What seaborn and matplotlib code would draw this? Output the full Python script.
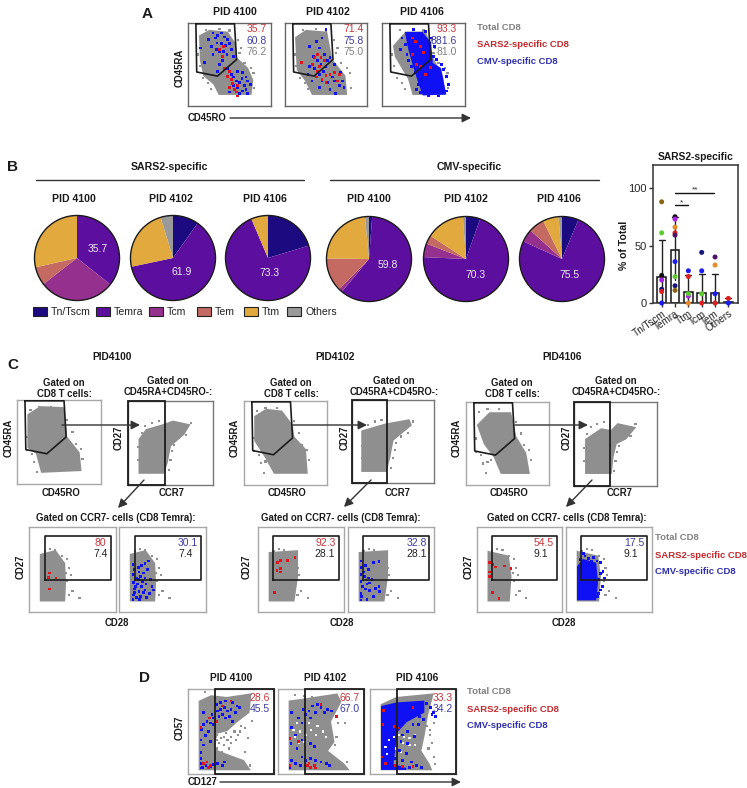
import pandas as pd
import matplotlib
matplotlib.use("Agg")
import matplotlib.pyplot as plt
from matplotlib.patches import Rectangle, Circle
import seaborn as sns

sns.set_style("white")
plt.rcParams['font.family'] = ['Liberation Sans', 'DejaVu Sans']

W, H = 747, 788
GREY = '#8f8f8f'
RED = '#e0141c'
BLUE = '#1010f5'
TXT_RED = '#c4373c'
TXT_BLUE = '#3c3ca0'

# pie values, clockwise from 12 o'clock
subsets = ['Tn/Tscm', 'Temra', 'Tcm', 'Tem', 'Ttm', 'Others']
subset_colors = ['#1b0a80', '#5c0f9e', '#96308e', '#c46a62', '#e2a93f', '#9a9a9a']
sars_4100 = [0, 35.7, 28.8, 7, 28.5, 0]
sars_4102 = [9.8, 61.9, 0, 0, 23.6, 4.7]
sars_4106 = [20.3, 73.3, 0, 0, 6.4, 0]
cmv_4100 = [1.2, 59.8, 1.4, 12.8, 23.3, 1.5]
cmv_4102 = [5.4, 70.3, 5.2, 3.3, 14.6, 1.2]
cmv_4106 = [6.3, 75.5, 4.9, 6.0, 6.0, 1.3]

# bar panel
bar_labels = ['Tn/Tscm', 'Temra', 'Ttm', 'Tcm', 'Tem', 'Others']
bar_means = [23, 46, 10, 8.5, 8.5, 1]
bar_low = [0, 20, 0, 0, 0, 0]
bar_high = [55, 75, 24, 25, 25, 4]
donor_colors = {'brown': '#8b6414', 'green': '#5ccb2e', 'black': '#111111', 'violet': '#a81fe8',
                'navy': '#16167a', 'red': '#dc2020', 'blue': '#1c1cf0', 'orange': '#e8892a',
                'plum': '#4e1566'}
tn_pts = [('brown', 88), ('green', 61), ('black', 24), ('violet', 20), ('navy', 12), ('red', 10), ('blue', 0)]
temra_pts = [('black', 75), ('violet', 73), ('orange', 66), ('red', 61), ('plum', 59), ('blue', 36),
             ('green', 23), ('navy', 15), ('brown', 11)]
ttm_pts = [('blue', 28), ('red', 23), ('violet', 6), ('green', 8), ('orange', 0)]
tcm_pts = [('navy', 44), ('blue', 28), ('green', 8), ('red', 0)]
tem_pts = [('plum', 40), ('orange', 33), ('blue', 8), ('red', 0)]
others_pts = [('red', 4), ('blue', 0)]

# flow gates, in axis units 0-100
gate_cd45 = [(9.5, 99), (56, 99), (58.5, 56), (35.5, 36), (10.5, 41), (9.5, 99)]

# panel A
cloud_a1 = [(15, 84), (26, 90), (47, 88), (55, 76), (57, 58), (71, 45), (77, 31), (75, 15), (38, 15), (32, 27), (20, 37), (16, 55)]
cloud_a2 = [(14, 82), (26, 90), (50, 88), (56, 56), (72, 36), (74, 15), (34, 15), (26, 31), (16, 44)]
cloud_a3 = [(15, 72), (29, 88), (52, 88), (60, 58), (72, 35), (74, 15), (38, 15), (33, 33), (17, 60)]
stray_a = [(22, 92), (38, 93), (50, 91), (60, 80), (64, 70), (12, 62), (14, 48), (18, 34), (24, 28), (28, 20), (79, 40), (80, 22), (76, 46), (68, 52), (62, 64)]
blue_a1 = [(30, 88), (33, 82), (36, 85), (40, 88), (44, 83), (48, 80), (35, 76), (40, 75), (45, 73), (50, 75), (28, 72), (34, 68),
           (38, 65), (43, 66), (47, 62), (52, 68), (55, 60), (30, 62), (25, 80), (15, 70), (20, 52), (42, 55), (38, 50), (48, 45),
           (36, 42), (52, 38), (55, 35), (58, 30), (62, 28), (65, 33), (68, 25), (70, 20), (72, 30), (66, 18), (60, 22), (55, 25),
           (50, 17), (75, 26), (62, 15), (70, 35), (66, 40), (60, 42), (72, 15)]
red_a1 = [(43, 72), (38, 68), (42, 60), (44, 45), (50, 42), (52, 32), (54, 27), (50, 22), (56, 20), (60, 25), (60, 12), (58, 17), (48, 36)]
blue_a2 = [(30, 72), (38, 78), (45, 82), (42, 70), (35, 60), (48, 62), (52, 55), (44, 50), (40, 55), (36, 45), (50, 48), (55, 58),
           (47, 42), (60, 50), (30, 48), (28, 38), (42, 38), (58, 35), (45, 30), (52, 28), (60, 30), (66, 25), (70, 30), (55, 20),
           (62, 15), (68, 40), (72, 22), (50, 92), (33, 30), (42, 22)]
red_a2 = [(36, 58), (40, 62), (44, 58), (34, 50), (38, 35), (42, 48), (48, 55), (20, 52), (45, 32), (50, 37), (55, 38), (60, 40), (64, 30), (50, 28), (66, 38), (40, 42)]
mass_a3 = [(29, 88), (48, 88), (58, 76), (60, 51), (70, 45), (76, 15), (50, 14), (44, 31), (39, 47), (33, 68)]
blue_a3 = [(24, 82), (28, 74), (30, 62), (32, 55), (36, 48), (38, 92), (52, 90), (60, 82), (63, 72), (62, 60), (44, 26), (42, 20),
           (46, 16), (74, 44), (78, 36), (80, 26), (78, 18), (72, 50), (40, 40), (66, 56), (22, 68), (56, 12), (68, 12)]
red_a3 = [(40, 78), (46, 72), (37, 62), (50, 64), (42, 50), (46, 48), (58, 46), (37, 82), (52, 38)]

# panel C, first row
cloud_c1 = [(14, 82), (28, 91), (54, 90), (57, 68), (58, 56), (73, 37), (75, 17), (30, 15), (24, 37), (14, 44)]
cloud_c2 = [(14, 81), (27, 89), (45, 87), (57, 71), (59, 57), (73, 42), (75, 15), (37, 15), (27, 33), (14, 53)]
cloud_c3 = [(15, 72), (29, 86), (53, 86), (59, 58), (71, 38), (75, 15), (43, 15), (35, 34), (23, 50)]
stray_c = [(16, 88), (26, 92), (40, 92), (60, 76), (66, 62), (70, 48), (12, 40), (18, 36), (20, 26), (26, 28), (24, 14), (78, 30), (76, 42), (30, 30), (12, 56)]
ccr7_c1 = [(14, 15), (14, 54), (22, 65), (42, 71), (53, 75), (71, 71), (65, 61), (49, 47), (45, 26), (41, 15)]
ccr7_c2 = [(13, 15), (13, 62), (41, 70), (69, 75), (71, 70), (49, 52), (45, 31), (41, 15)]
ccr7_c3 = [(15, 16), (15, 55), (33, 67), (45, 65), (53, 73), (72, 69), (62, 57), (50, 51), (46, 35), (44, 16)]
stray_ccr7 = [(16, 62), (20, 70), (28, 74), (36, 76), (60, 56), (54, 48), (52, 40), (50, 30), (48, 18), (74, 74), (12, 45), (12, 30), (68, 60)]

# panel C, second row
gate_cd28 = [(18, 38), (94, 38), (94, 89), (18, 89), (18, 38)]
cd28_c1 = [(14, 14), (14, 67), (30, 71), (40, 57), (41, 34), (40, 14)]
cd28_c2 = [(14, 14), (14, 69), (45, 71), (45, 42), (41, 14)]
cd28_c3 = [(14, 14), (14, 70), (36, 65), (39, 42), (37, 14)]
stray_cd28 = [(18, 72), (24, 74), (30, 73), (38, 66), (44, 62), (46, 52), (42, 46), (48, 44), (44, 36), (50, 25), (46, 20), (58, 16)]
red_c1 = [(24, 46), (22, 41), (31, 40), (24, 27)]
blue_c1 = [(16, 56), (18, 50), (22, 52), (26, 55), (30, 57), (34, 60), (23, 47), (28, 46), (33, 50), (17, 44), (20, 40), (25, 42),
           (30, 40), (36, 38), (17, 35), (21, 33), (26, 30), (31, 33), (38, 30), (18, 27), (23, 24), (28, 23), (35, 22), (17, 20),
           (20, 17), (25, 18), (32, 17), (16, 15), (40, 26), (19, 30), (22, 38), (27, 36), (18, 23), (24, 15), (30, 26)]
red_c2 = [(26, 61), (34, 61), (43, 64), (23, 58), (26, 51), (22, 49), (26, 47), (19, 23)]
blue_c2 = [(15, 60), (16, 52), (20, 55), (24, 50), (30, 58), (36, 59), (15, 44), (19, 42), (24, 40), (28, 38), (15, 36), (17, 30),
           (20, 27), (25, 25), (32, 28), (37, 24), (15, 22), (16, 18), (15, 14), (22, 15), (25, 34), (30, 18), (36, 30), (18, 47), (22, 33)]
red_c3 = [(15, 58), (18, 56), (22, 53), (32, 54), (40, 51), (15, 47), (15, 42), (18, 23), (26, 16)]
mass_c3 = [(14, 15), (14, 53), (20, 61), (34, 57), (36, 34), (34, 15)]
blue_c3 = [(17, 62), (22, 66), (26, 63), (30, 60), (36, 60), (40, 58), (43, 48), (45, 40), (40, 45), (38, 38), (42, 30), (40, 26),
           (38, 22), (37, 18), (20, 69), (25, 58), (32, 64)]

# panel D
cloud_d1 = [(14, 85), (27, 91), (45, 89), (72, 93), (70, 73), (56, 62), (45, 52), (30, 48), (30, 28), (45, 22), (64, 15), (70, 6), (14, 6)]
cloud_d2 = [(14, 85), (29, 87), (68, 93), (72, 85), (60, 62), (64, 38), (56, 27), (76, 11), (80, 6), (14, 6)]
cloud_d3 = [(14, 81), (31, 89), (72, 93), (66, 70), (62, 46), (58, 27), (68, 11), (70, 6), (14, 6)]
stray_d1 = [(34, 46), (38, 42), (42, 44), (46, 40), (50, 44), (36, 36), (42, 34), (48, 30), (34, 30), (54, 50), (58, 46), (62, 56),
            (66, 54), (70, 42), (66, 26), (34, 40), (40, 26), (74, 62), (72, 10), (20, 96), (32, 44), (36, 50), (44, 48), (50, 36), (56, 40), (60, 50)]
white_d2 = [(20, 44), (26, 50), (32, 46), (38, 52), (44, 46), (52, 50), (24, 36), (30, 38), (18, 52), (46, 56), (56, 44), (36, 60), (22, 60)]
white_d3 = [(34, 46), (40, 44), (46, 42), (52, 46), (38, 36), (46, 34), (52, 34), (30, 30), (18, 32), (22, 40), (20, 24), (28, 44), (36, 26)]
stray_d2 = [(20, 93), (30, 92), (40, 91), (70, 60), (68, 44), (66, 34), (80, 14), (78, 60), (60, 24)]
stray_d3 = [(74, 60), (70, 52), (72, 36), (68, 30), (74, 20), (76, 12), (70, 46), (66, 56)]
mass_d3 = [(14, 79), (31, 83), (62, 85), (62, 73), (42, 62), (31, 50), (26, 11), (42, 6), (14, 6)]
blue_d1 = [(33, 82), (38, 84), (44, 86), (52, 84), (57, 80), (60, 78), (34, 74), (38, 76), (42, 78), (46, 74), (50, 76), (55, 72),
           (36, 68), (40, 70), (44, 66), (48, 68), (52, 62), (30, 66), (28, 70), (26, 60), (22, 62), (18, 58), (30, 58), (24, 50),
           (16, 52), (20, 45), (15, 40), (18, 34), (26, 38), (15, 25), (15, 18), (15, 12), (17, 8), (21, 10), (26, 9), (30, 11),
           (34, 12), (40, 10), (15, 7), (42, 14), (18, 72)]
red_d1 = [(40, 80), (50, 86), (25, 66), (33, 62), (15, 55), (18, 12), (22, 14), (26, 10), (24, 8)]
blue_d2 = [(30, 76), (32, 70), (36, 74), (40, 80), (46, 82), (50, 78), (54, 72), (58, 76), (62, 74), (44, 72), (38, 66), (28, 60),
           (16, 72), (24, 66), (16, 55), (20, 46), (15, 36), (22, 30), (28, 40), (38, 36), (42, 32), (28, 20), (32, 16), (38, 18),
           (44, 16), (50, 14), (56, 12), (60, 10), (16, 16), (20, 12), (26, 10), (14, 8)]
red_d2 = [(50, 82), (68, 68), (14, 42), (24, 38), (34, 10), (38, 8), (42, 10), (36, 13), (44, 7), (14, 10)]
blue_d3 = [(66, 83), (70, 78), (72, 70), (58, 68), (62, 64), (50, 58), (44, 50), (38, 46), (36, 38), (44, 36), (34, 28), (42, 24),
           (30, 18), (38, 16), (48, 14), (54, 10), (60, 8), (46, 8), (56, 58), (74, 72), (76, 68), (52, 44), (46, 70)]
red_d3 = [(16, 75), (15, 58), (28, 56), (32, 54), (50, 78), (14, 20), (18, 12), (30, 10), (38, 9), (50, 9)]

fig = plt.figure(figsize=(W / 100, H / 100), dpi=100)


def px_axes(left, top, right, bottom):
    return fig.add_axes([left / W, 1 - bottom / H, (right - left) / W, (bottom - top) / H])


def dots(ax, pts, color, size):
    if pts:
        df = pd.DataFrame(pts, columns=['x', 'y'])
        sns.scatterplot(data=df, x='x', y='y', color=color, s=size, marker='s', linewidth=0,
                        edgecolor='none', ax=ax, zorder=5)


def flow(box, cloud, gate=None, stray=None, mass=None, blue=None, red=None, rect=None,
         frame='#a0a0a0', white=None, frame_lw=1.0):
    ax = px_axes(*box)
    ax.fill(*zip(*cloud), fc=GREY, ec=GREY, lw=2, zorder=2)
    dots(ax, stray, GREY, 2.5)
    dots(ax, white, 'white', 2.5)
    if mass:
        ax.fill(*zip(*mass), fc=BLUE, ec=BLUE, lw=1.5, zorder=4)
    dots(ax, blue, BLUE, 4)
    dots(ax, red, RED, 4)
    if gate:
        ax.plot(*zip(*gate), color='#1c1c1c', lw=1.2, zorder=6, clip_on=False)
    if rect:
        ax.add_patch(Rectangle((rect[0], 0), rect[1] - rect[0], 100, fill=False, ec='#1c1c1c', lw=1.3, zorder=6, clip_on=False))
    ax.set_xlim(0, 100)
    ax.set_ylim(0, 100)
    ax.set(xlabel='', ylabel='', xticks=[], yticks=[])
    for s in ax.spines.values():
        s.set_color(frame)
        s.set_linewidth(frame_lw)
    return ax


# A
flow((188, 23, 271, 106), cloud_a1, gate_cd45, stray_a, None, blue_a1, red_a1, frame='#666666')
flow((285, 23, 367, 106), cloud_a2, gate_cd45, stray_a, None, blue_a2, red_a2, frame='#666666')
flow((382, 23, 465, 106), cloud_a3, gate_cd45, stray_a, mass_a3, blue_a3, red_a3, frame='#666666')

# B pies
pie_boxes = [(77, 258, sars_4100), (173, 258, sars_4102), (268, 258, sars_4106),
             (369, 259, cmv_4100), (466, 259, cmv_4102), (562, 259, cmv_4106)]
for cx, cy, vals in pie_boxes:
    ax = px_axes(cx - 44, cy - 44, cx + 44, cy + 44)
    ax.pie(vals, colors=subset_colors, startangle=90, counterclock=False, radius=1, wedgeprops={'linewidth': 0})
    ax.add_patch(Circle((0, 0), 1, fill=False, ec='#1a1a1a', lw=1.0))
    ax.set_xlim(-1.035, 1.035)
    ax.set_ylim(-1.035, 1.035)

# B bars
bar_ax = px_axes(653, 165, 738, 303)
point_rows = []
for name, pts in zip(bar_labels, [tn_pts, temra_pts, ttm_pts, tcm_pts, tem_pts, others_pts]):
    for donor, val in pts:
        point_rows.append({'subset': name, 'pct': val, 'donor': donor})
points = pd.DataFrame(point_rows)
sns.barplot(x=bar_labels, y=bar_means, color='white', edgecolor='#111111', linewidth=1.1, width=0.65, ax=bar_ax, zorder=1)
for i in range(len(bar_labels)):
    bar_ax.plot([i, i], [bar_low[i], bar_high[i]], color='#222222', lw=1, zorder=2)
    bar_ax.plot([i - 0.22, i + 0.22], [bar_high[i], bar_high[i]], color='#222222', lw=1, zorder=2)
sns.stripplot(data=points, x='subset', y='pct', hue='donor', palette=donor_colors, jitter=False, size=3.6,
              order=bar_labels, legend=False, ax=bar_ax, zorder=3, clip_on=False)
bar_ax.plot([1, 3.9], [96, 96], color='#111111', lw=1)
bar_ax.plot([1, 2], [85, 85], color='#111111', lw=1)
bar_ax.text(2.5, 95, '**', ha='center', va='bottom', fontsize=6)
bar_ax.text(1.5, 84, '*', ha='center', va='bottom', fontsize=6)
bar_ax.set_xlim(-0.65, 5.72)
bar_ax.set_ylim(0, 120)
bar_ax.set_yticks([0, 50, 100])
bar_ax.set_ylabel('')
bar_ax.set_xlabel('')
bar_ax.tick_params(axis='y', left=True, length=3, width=1, labelsize=8, pad=1.5, color='#333333')
bar_ax.tick_params(axis='x', bottom=True, length=3, width=1, color='#333333', pad=1)
bar_ax.set_xticks(range(6))
bar_ax.set_xticklabels(bar_labels, rotation=35, ha='right', rotation_mode='anchor', fontsize=7.2, color='#222222')
for s in bar_ax.spines.values():
    s.set_color('#333333')
    s.set_linewidth(1.1)

# C
c_cols = [
    dict(b1=(17, 400, 101, 484), b2=(128, 401, 213, 485), b3=(29, 527, 116, 612), b4=(119, 527, 206, 612),
         cloud=cloud_c1, ccr7=ccr7_c1, cd28=cd28_c1, red=red_c1, blue=blue_c1, mass=None),
    dict(b1=(244, 401, 327, 485), b2=(352, 400, 434, 483), b3=(258, 527, 344, 612), b4=(348, 527, 434, 612),
         cloud=cloud_c2, ccr7=ccr7_c2, cd28=cd28_c2, red=red_c2, blue=blue_c2, mass=None),
    dict(b1=(466, 402, 549, 485), b2=(574, 402, 657, 486), b3=(477, 527, 562, 612), b4=(566, 527, 652, 612),
         cloud=cloud_c3, ccr7=ccr7_c3, cd28=cd28_c3, red=red_c3, blue=blue_c3, mass=mass_c3),
]
for col in c_cols:
    flow(col['b1'], col['cloud'], gate_cd45, stray_c, frame='#a8a8a8')
    flow(col['b2'], col['ccr7'], None, stray_ccr7, rect=(0, 43), frame='#777777')
    flow(col['b3'], col['cd28'], gate_cd28, stray_cd28, None, None, col['red'], frame='#a8a8a8')
    flow(col['b4'], col['cd28'], gate_cd28, stray_cd28, col['mass'], col['blue'], None, frame='#a8a8a8')

# D
rect_d = (31, 100)
flow((188, 689, 274, 774), cloud_d1, None, stray_d1, None, blue_d1, red_d1, rect=rect_d, frame='#a8a8a8')
flow((278, 689, 364, 774), cloud_d2, None, stray_d2, None, blue_d2, red_d2, rect=rect_d, frame='#a8a8a8', white=white_d2)
flow((370, 689, 456, 774), cloud_d3, None, stray_d3, mass_d3, blue_d3, red_d3, rect=rect_d, frame='#a8a8a8', white=white_d3)

# everything else sits on a page-sized layer in reference pixels
page = fig.add_axes([0, 0, 1, 1], facecolor='none')
page.set_xlim(0, W)
page.set_ylim(H, 0)
page.axis('off')


def label(x, y, s, size=6.9, bold=True, color='#1a1a1a', ha='center', rot=0):
    page.text(x, y, s, fontsize=size, fontweight='bold' if bold else 'normal', color=color, ha=ha, va='center', rotation=rot)


def arrow(x0, y0, x1, y1, scale=13):
    page.annotate('', xy=(x1, y1), xytext=(x0, y0),
                  arrowprops=dict(arrowstyle='-|>', color='#333333', lw=1.0, mutation_scale=scale, shrinkA=0, shrinkB=0))


def key(x, y0, step=17):
    label(x, y0, 'Total CD8', 6.8, color='#808080', ha='left')
    label(x, y0 + step, 'SARS2-specific CD8', 6.8, color='#c22a2e', ha='left')
    label(x, y0 + 2 * step, 'CMV-specific CD8', 6.8, color='#3030a8', ha='left')


for x, y, s in [(147, 14, 'A'), (12, 167, 'B'), (13, 365, 'C'), (144, 678, 'D')]:
    label(x, y, s, size=11)

# A text
for x, s in [(235, 'PID 4100'), (328, 'PID 4102'), (422, 'PID 4106')]:
    label(x, 12, s, 7.6)
for x, a, b, c in [(267, '35.7', '60.8', '76.2'), (364, '71.4', '75.8', '75.0'), (457, '93.3', '881.6', '81.0')]:
    label(x, 29, a, 7.5, False, TXT_RED, 'right')
    label(x, 41, b, 7.5, False, TXT_BLUE, 'right')
    label(x, 52, c, 7.5, False, '#808080', 'right')
label(180, 68, 'CD45RA', rot=90)
label(188, 118, 'CD45RO', ha='left')
arrow(230, 118, 471, 118)
key(477, 27)

# B text
label(169, 167, 'SARS2-specific', 7.6)
label(469, 167, 'CMV-specific', 7.6)
page.plot([36, 304], [180, 180], color='#333333', lw=1)
page.plot([330, 599], [180, 180], color='#333333', lw=1)
for x, s in [(74, 'PID 4100'), (171, 'PID 4102'), (265, 'PID 4106'), (369, 'PID 4100'), (466, 'PID 4102'), (559, 'PID 4106')]:
    label(x, 199, s, 7.6)
for x, y, s in [(98, 249, '35.7'), (182, 272, '61.9'), (269, 273, '73.3'), (388, 265, '59.8'), (475, 275, '70.3'), (570, 275, '75.5')]:
    label(x, y, s, 7.5, False, '#eeeaf4')
swatch_x = [33, 96, 149, 197, 244, 287]
for x, name, c in zip(swatch_x, subsets, subset_colors):
    page.add_patch(Rectangle((x, 307), 14, 9, fc=c, ec='#222222', lw=0.8))
    label(x + 18, 312, name, 7.6, False, '#222222', 'left')
label(696, 157, 'SARS2-specific', 7.4)
label(624, 245, '% of Total', 7.6, True, rot=90)

# C text
c_text = [
    dict(pid=('PID4100', 112), g1=64, g2=168, ra=9, r27=119, ro=61, r7=172, a1=(62, 140), a2=(144, 480, 118, 508),
         g3=116, c27=21, c28=117, nums=[('80', 106, TXT_RED), ('7.4', 108, '#222222'), ('30.1', 198, TXT_BLUE), ('7.4', 193, '#222222')]),
    dict(pid=('PID4102', 335), g1=291, g2=394, ra=235, r27=345, ro=287, r7=398, a1=(293, 367), a2=(371, 480, 344, 507),
         g3=341, c27=247, c28=342, nums=[('92.3', 336, TXT_RED), ('28.1', 335, '#222222'), ('32.8', 427, TXT_BLUE), ('28.1', 427, '#222222')]),
    dict(pid=('PID4106', 562), g1=512, g2=616, ra=457, r27=567, ro=509, r7=620, a1=(515, 588), a2=(592, 480, 566, 507),
         g3=567, c27=469, c28=564, nums=[('54.5', 554, TXT_RED), ('9.1', 548, '#222222'), ('17.5', 644, TXT_BLUE), ('9.1', 638, '#222222')]),
]
for t in c_text:
    label(t['pid'][1], 357, t['pid'][0], 7.4)
    label(t['g1'], 383, 'Gated on')
    label(t['g1'], 394, 'CD8 T cells:')
    label(t['g2'], 381, 'Gated on')
    label(t['g2'], 392, 'CD45RA+CD45RO-:')
    label(t['ra'], 438, 'CD45RA', rot=90)
    label(t['r27'], 438, 'CD27', rot=90)
    label(t['ro'], 493, 'CD45RO')
    label(t['r7'], 493, 'CCR7')
    arrow(t['a1'][0], 425, t['a1'][1], 425)
    arrow(*t['a2'])
    label(t['g3'], 518, 'Gated on CCR7- cells (CD8 Temra):')
    label(t['c27'], 567, 'CD27', rot=90)
    label(t['c28'], 623, 'CD28')
    for i, (s, x, c) in enumerate(t['nums']):
        label(x, 543 if i % 2 == 0 else 554, s, 7.5, False, c, 'right')
key(655, 538)

# D text
for x, s in [(231, 'PID 4100'), (325, 'PID 4102'), (417, 'PID 4106')]:
    label(x, 678, s, 7.4)
for x, a, b in [(270, '28.6', '45.5'), (360, '66.7', '67.0'), (453, '33.3', '34.2')]:
    label(x, 698, a, 7.5, False, TXT_RED, 'right')
    label(x, 709, b, 7.5, False, TXT_BLUE, 'right')
label(180, 728, 'CD57', rot=90)
label(188, 782, 'CD127', ha='left')
arrow(220, 782, 461, 782)
key(467, 692)

fig.savefig('out.png', dpi=100)
